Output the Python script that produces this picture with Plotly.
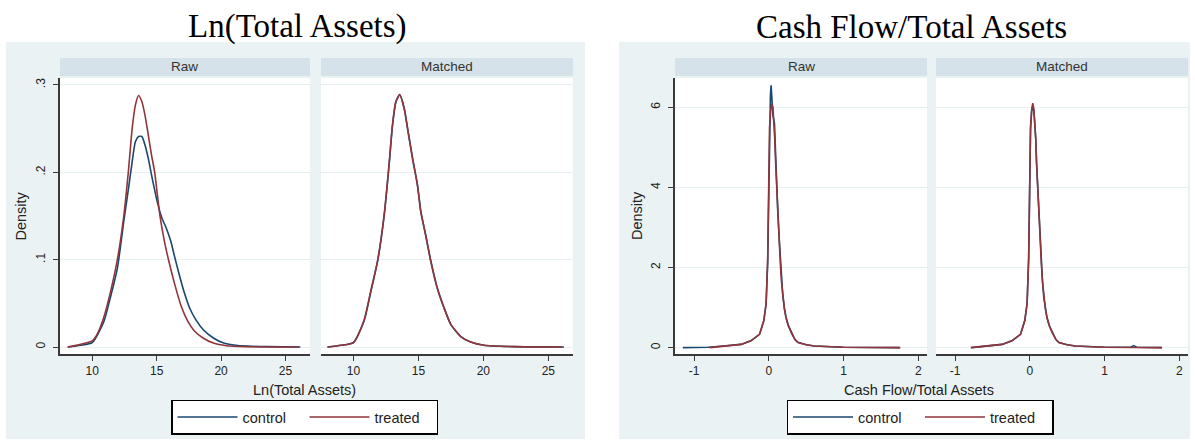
import plotly.graph_objects as go

# ---------------- data ----------------
# Ln(Total Assets) - Raw
lta_raw_ctrl_x = [8.1, 9.1, 10.0, 10.9, 11.4, 11.95, 12.45, 12.8, 13.1, 13.35, 13.6, 13.85, 14.1, 14.35,
                  14.7, 15.1, 15.4, 15.75, 16.1, 16.35, 16.75, 17.15, 17.55, 18.05, 18.6, 19.4, 20.2,
                  21.0, 22.0, 23.5, 26.15]
lta_raw_ctrl_y = [0.0, 0.002, 0.005, 0.029, 0.056, 0.09, 0.144, 0.18, 0.212, 0.235, 0.241, 0.241, 0.231,
                  0.216, 0.19, 0.163, 0.148, 0.136, 0.121, 0.106, 0.083, 0.062, 0.045, 0.031, 0.02,
                  0.0103, 0.0046, 0.0023, 0.001, 0.0004, 0.0]
lta_raw_trt_x = [8.1, 9.1, 10.0, 10.4, 10.9, 11.4, 11.95, 12.45, 12.8, 13.1, 13.35, 13.6, 13.85, 14.1,
                 14.35, 14.6, 14.85, 15.05, 15.25, 15.45, 15.7, 16.0, 16.4, 16.9, 17.4, 17.9, 18.6, 19.4,
                 20.4, 21.9, 26.0]
lta_raw_trt_y = [0.0, 0.003, 0.007, 0.015, 0.034, 0.062, 0.1, 0.15, 0.2, 0.25, 0.277, 0.288, 0.281, 0.265,
                 0.243, 0.22, 0.2, 0.175, 0.151, 0.133, 0.114, 0.095, 0.072, 0.047, 0.03, 0.019, 0.0103,
                 0.0045, 0.0015, 0.0004, 0.0]
# Ln(Total Assets) - Matched
lta_m_ctrl_x = [8.0, 9.03, 10.0, 10.82, 11.33, 11.85, 12.36, 12.74, 13.0, 13.26, 13.56, 13.9, 14.2, 14.54,
                14.92, 15.18, 15.56, 15.95, 16.46, 16.97, 17.49, 18.26, 19.03, 20.05, 22.36, 26.2]
lta_m_ctrl_y = [0.0, 0.002, 0.005, 0.03, 0.063, 0.098, 0.15, 0.208, 0.253, 0.28, 0.289, 0.274, 0.247,
                0.217, 0.186, 0.156, 0.128, 0.099, 0.067, 0.045, 0.026, 0.012, 0.0058, 0.002, 0.0004, 0.0]
lta_m_trt_x = [8.0, 9.03, 10.0, 10.82, 11.33, 11.85, 12.36, 12.74, 13.0, 13.26, 13.56, 13.9, 14.2, 14.54,
               14.92, 15.18, 15.56, 15.95, 16.46, 16.97, 17.49, 18.26, 19.03, 20.05, 22.36, 26.08]
lta_m_trt_y = [0.0, 0.002, 0.005, 0.031, 0.064, 0.098, 0.151, 0.209, 0.254, 0.281, 0.289, 0.273, 0.247,
               0.216, 0.186, 0.155, 0.128, 0.098, 0.067, 0.045, 0.026, 0.012, 0.0057, 0.002, 0.0004, 0.0]

# Cash Flow/Total Assets - Raw
cf_raw_ctrl_x = [-1.15, -0.81, -0.61, -0.37, -0.24, -0.124, -0.067, -0.036, -0.015, 0.0, 0.012, 0.022,
                 0.031, 0.04, 0.055, 0.076, 0.09, 0.105, 0.12, 0.14, 0.155, 0.17, 0.187, 0.21, 0.23, 0.26,
                 0.3, 0.35, 0.39, 0.5, 0.61, 1.0, 1.75]
cf_raw_ctrl_y = [0.0, 0.01, 0.04, 0.08, 0.17, 0.33, 0.67, 1.1, 2.1, 3.9, 5.6, 6.3, 6.55, 6.1, 5.8, 5.6,
                 4.75, 4.0, 3.4, 2.7, 2.2, 1.7, 1.3, 0.97, 0.76, 0.56, 0.38, 0.2, 0.13, 0.07, 0.04, 0.01, 0.0]
cf_raw_trt_x = [-0.79, -0.61, -0.37, -0.24, -0.124, -0.067, -0.036, -0.015, 0.0, 0.01, 0.025, 0.04, 0.055,
                0.067, 0.08, 0.09, 0.105, 0.12, 0.14, 0.155, 0.17, 0.187, 0.21, 0.23, 0.26, 0.3, 0.35,
                0.39, 0.5, 0.61, 1.0, 1.76]
cf_raw_trt_y = [0.0, 0.04, 0.08, 0.17, 0.33, 0.67, 1.08, 2.2, 4.0, 5.5, 5.9, 6.08, 6.0, 5.67, 5.2, 4.67,
                4.0, 3.25, 2.6, 2.08, 1.65, 1.25, 0.95, 0.75, 0.55, 0.375, 0.2, 0.125, 0.07, 0.04, 0.01, 0.0]
# Cash Flow/Total Assets - Matched
cf_m_ctrl_x = [-0.78, -0.6, -0.37, -0.24, -0.124, -0.067, -0.036, -0.015, 0.0, 0.01, 0.025, 0.04, 0.055,
               0.067, 0.08, 0.09, 0.105, 0.12, 0.14, 0.155, 0.17, 0.187, 0.21, 0.23, 0.26, 0.3, 0.35,
               0.39, 0.5, 0.61, 1.0, 1.35, 1.39, 1.43, 1.77]
cf_m_ctrl_y = [0.0, 0.04, 0.08, 0.17, 0.33, 0.68, 1.1, 2.25, 4.1, 5.45, 5.9, 6.03, 5.9, 5.65, 5.2, 4.6,
               4.0, 3.25, 2.6, 2.1, 1.65, 1.25, 0.95, 0.75, 0.55, 0.375, 0.2, 0.125, 0.07, 0.04, 0.01,
               0.01, 0.05, 0.01, 0.0]
cf_m_trt_x = [-0.79, -0.6, -0.37, -0.24, -0.124, -0.067, -0.036, -0.015, 0.0, 0.01, 0.025, 0.04, 0.055,
              0.067, 0.08, 0.09, 0.105, 0.12, 0.14, 0.155, 0.17, 0.187, 0.21, 0.23, 0.26, 0.3, 0.35,
              0.39, 0.5, 0.61, 1.0, 1.77]
cf_m_trt_y = [0.0, 0.04, 0.08, 0.17, 0.33, 0.67, 1.1, 2.2, 4.0, 5.5, 5.95, 6.1, 5.95, 5.67, 5.2, 4.65,
              4.0, 3.25, 2.6, 2.08, 1.65, 1.25, 0.95, 0.75, 0.55, 0.375, 0.2, 0.125, 0.07, 0.04, 0.01, 0.0]

lta_xticks = [10, 15, 20, 25]
lta_yticks = [0, 0.1, 0.2, 0.3]
lta_yticktext = ["0", ".1", ".2", ".3"]
cf_xticks = [-1, 0, 1, 2]
cf_xticktext = ["-1", "0", "1", "2"]
cf_yticks = [0, 2, 4, 6]
cf_yticktext = ["0", "2", "4", "6"]

titles = ["Ln(Total Assets)", "Cash Flow/Total Assets"]
panels = ["Raw", "Matched"]
series = ["control", "treated"]

# ---------------- styling ----------------
W, H = 1195, 441
C_CTRL = "#1A476F"
C_TRT = "#90353B"
BG = "#EAF2F3"
STRIP = "#D6E2E9"
AXC = "#3a3a3a"
SANS = "Liberation Sans, Arial, sans-serif"
SERIF = "Liberation Serif, Times New Roman, serif"


def px(x):
    return x / W


def py(y):
    return 1 - y / H


fig = go.Figure()

curves = [
    ("x", "y", lta_raw_ctrl_x, lta_raw_ctrl_y, lta_raw_trt_x, lta_raw_trt_y, "legend", True, "spline"),
    ("x2", "y2", lta_m_ctrl_x, lta_m_ctrl_y, lta_m_trt_x, lta_m_trt_y, "legend", False, "spline"),
    ("x3", "y3", cf_raw_ctrl_x, cf_raw_ctrl_y, cf_raw_trt_x, cf_raw_trt_y, "legend2", True, "linear"),
    ("x4", "y4", cf_m_ctrl_x, cf_m_ctrl_y, cf_m_trt_x, cf_m_trt_y, "legend2", False, "linear"),
]
for xa, ya, cx, cy, tx, ty, lg, show, shp in curves:
    fig.add_trace(go.Scatter(x=cx, y=cy, mode="lines", name=series[0], xaxis=xa, yaxis=ya,
                             line=dict(color=C_CTRL, width=1.6, shape=shp, smoothing=0.6),
                             legend=lg, showlegend=show))
    fig.add_trace(go.Scatter(x=tx, y=ty, mode="lines", name=series[1], xaxis=xa, yaxis=ya,
                             line=dict(color=C_TRT, width=1.6, shape=shp, smoothing=0.6),
                             legend=lg, showlegend=show))

tickfont = dict(family=SANS, size=12, color="#222")
plot_top, plot_bot = 78, 354
ydom = [py(plot_bot), py(plot_top)]

common_x = dict(showline=True, linecolor=AXC, linewidth=1.6, ticks="outside", ticklen=5,
                tickcolor=AXC, tickwidth=1.4, showgrid=False, zeroline=False, tickfont=tickfont,
                fixedrange=True)
common_y = dict(showgrid=True, gridcolor="#E6EFF1", gridwidth=1.2, zeroline=False, fixedrange=True)

x_doms = [(60, 310), (321, 573), (675, 927), (936, 1188)]

fig.update_layout(
    xaxis=dict(domain=[px(60), px(310)], range=[7.5, 26.9], tickvals=lta_xticks, anchor="y", **common_x),
    xaxis2=dict(domain=[px(321), px(573)], range=[7.5, 26.9], tickvals=lta_xticks, anchor="y2", **common_x),
    xaxis3=dict(domain=[px(675), px(927)], range=[-1.255, 2.117], tickvals=cf_xticks,
                ticktext=cf_xticktext, anchor="y3", **common_x),
    xaxis4=dict(domain=[px(936), px(1188)], range=[-1.255, 2.117], tickvals=cf_xticks,
                ticktext=cf_xticktext, anchor="y4", **common_x),
    yaxis=dict(domain=ydom, range=[-0.008, 0.308], tickvals=lta_yticks, ticktext=lta_yticktext,
               tickangle=-90, showline=True, linecolor=AXC, linewidth=1.6, ticks="outside", ticklen=5,
               tickcolor=AXC, tickwidth=1.4, tickfont=tickfont, ticklabelstandoff=3, anchor="x",
               **common_y),
    yaxis2=dict(domain=ydom, matches="y", showticklabels=False, showline=False, ticks="",
                tickvals=lta_yticks, anchor="x2", **common_y),
    yaxis3=dict(domain=ydom, range=[-0.16, 6.73], tickvals=cf_yticks, ticktext=cf_yticktext,
                tickangle=-90, showline=True, linecolor=AXC, linewidth=1.6, ticks="outside", ticklen=5,
                tickcolor=AXC, tickwidth=1.4, tickfont=tickfont, ticklabelstandoff=3, anchor="x3",
                **common_y),
    yaxis4=dict(domain=ydom, matches="y3", showticklabels=False, showline=False, ticks="",
                tickvals=cf_yticks, anchor="x4", **common_y),
)

shapes = []
# graph region backgrounds
for x0, x1 in [(6, 585), (619, 1190)]:
    shapes.append(dict(type="rect", xref="paper", yref="paper", x0=px(x0), x1=px(x1), y0=py(439),
                       y1=py(42), fillcolor=BG, line=dict(width=0), layer="below"))
# white plot regions
for x0, x1 in x_doms:
    shapes.append(dict(type="rect", xref="paper", yref="paper", x0=px(x0), x1=px(x1), y0=py(plot_bot),
                       y1=py(plot_top), fillcolor="white", line=dict(width=0), layer="below"))
# strips
for x0, x1 in x_doms:
    shapes.append(dict(type="rect", xref="paper", yref="paper", x0=px(x0), x1=px(x1), y0=py(76),
                       y1=py(58), fillcolor=STRIP, line=dict(width=0), layer="below"))

annotations = []
for i, (x0, x1) in enumerate(x_doms):
    annotations.append(dict(text=panels[i % 2], xref="paper", yref="paper", x=px((x0 + x1) / 2),
                            y=py(67), xanchor="center", yanchor="middle", showarrow=False,
                            font=dict(family=SANS, size=13.5, color="#333")))
# big titles
annotations.append(dict(text=titles[0], xref="paper", yref="paper", x=px(297.5), y=py(27),
                        xanchor="center", yanchor="middle", showarrow=False,
                        font=dict(family=SERIF, size=33, color="black")))
annotations.append(dict(text=titles[1], xref="paper", yref="paper", x=px(911), y=py(27),
                        xanchor="center", yanchor="middle", showarrow=False,
                        font=dict(family=SERIF, size=33, color="black")))
# axis titles
for xc, t in [(304, titles[0]), (919, titles[1])]:
    annotations.append(dict(text=t, xref="paper", yref="paper", x=px(xc), y=py(390),
                            xanchor="center", yanchor="middle", showarrow=False,
                            font=dict(family=SANS, size=14.5, color="#222")))
for xc in [20.5, 637]:
    annotations.append(dict(text="Density", xref="paper", yref="paper", x=px(xc), y=py(216),
                            xanchor="center", yanchor="middle", showarrow=False, textangle=-90,
                            font=dict(family=SANS, size=14.5, color="#222")))

legend_common = dict(orientation="h", bgcolor="white", bordercolor="black", borderwidth=1.5,
                     font=dict(family=SANS, size=14.5, color="#222"), xanchor="center", yanchor="middle",
                     entrywidth=57, itemwidth=60, traceorder="normal")

fig.update_layout(
    width=W, height=H, margin=dict(l=0, r=0, t=0, b=0),
    paper_bgcolor="white", plot_bgcolor="white",
    shapes=shapes, annotations=annotations,
    legend=dict(x=px(304.5), y=py(417), **legend_common),
    legend2=dict(x=px(920), y=py(417), **legend_common),
)

fig.write_html("out.html", config={"displayModeBar": False},
               post_script="document.body.style.margin='0';")
